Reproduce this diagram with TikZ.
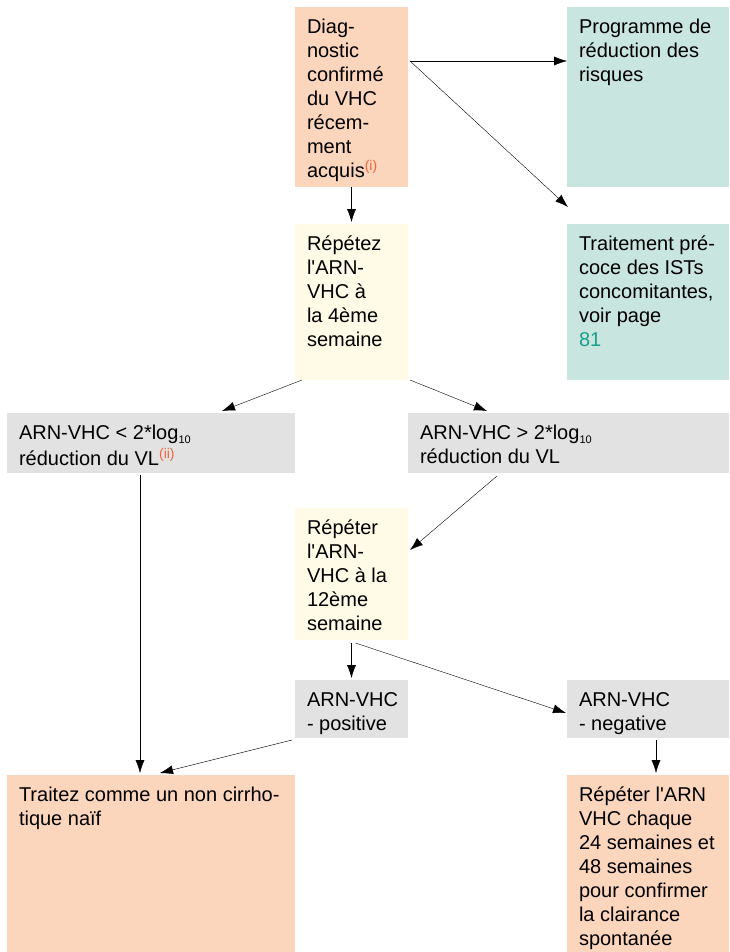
\documentclass[tikz,border=0pt]{standalone}
\usepackage{fontspec}
\setmainfont{Liberation Sans}
\usepackage{tikz}
\usetikzlibrary{arrows.meta}
\usetikzlibrary{calc}

\definecolor{salmon}{HTML}{FBD5BC}
\definecolor{sea}{HTML}{C9E5E0}
\definecolor{cream}{HTML}{FFFBE6}
\definecolor{ash}{HTML}{E2E2E2}
\definecolor{linkteal}{HTML}{1A9E8A}
\definecolor{noteorange}{HTML}{F0643C}

\newcommand{\boxtxt}[3]{\parbox[c][#2pt][t]{#1pt}{\raggedright\strut #3}}
\newcommand{\note}[1]{\textsuperscript{\color{noteorange}(#1)}}
\newcommand{\logten}{log\raisebox{-4pt}{\fontsize{11}{11}\selectfont 10}}
\newcommand{\q}{\textquotesingle}

\begin{document}
\begin{tikzpicture}[x=1pt,y=-1pt,
        every node/.style={block},
        block/.style={anchor=north west,inner xsep=12pt,inner ysep=10pt,outer sep=0pt,
            font=\fontsize{20}{24}\selectfont},
        arrow/.style={-{Latex[length=13pt,width=9pt]}}]
   \useasboundingbox (0,0) rectangle (729,952);
   \node (A) [fill=salmon] at (295,7) {\boxtxt{89}{160}{Diag-\\nostic\\confirmé\\du VHC\\récem-\\ment\\acquis\note{i}}};
   \node (B) [fill=sea] at (567,7) {\boxtxt{138}{160}{Programme de\\réduction des\\risques}};
   \node (C) [fill=cream] at (295,224) {\boxtxt{89}{136}{Répétez\\l\q ARN-\\VHC à\\la 4ème\\semaine}};
   \node (D) [fill=sea] at (567,224) {\boxtxt{138}{136}{Traitement pré-\\coce des ISTs\\concomitantes,\\voir page\\{\color{linkteal}81}}};
   \node (E) [fill=ash] at (7,413) {\boxtxt{264}{40}{ARN-VHC < 2*\logten\\réduction du VL\note{ii}}};
   \node (F) [fill=ash] at (408,413) {\boxtxt{297}{40}{ARN-VHC > 2*\logten\\réduction du VL}};
   \node (G) [fill=cream] at (295,508) {\boxtxt{89}{112}{Répéter\\l\q ARN-\\VHC à la\\12ème\\semaine}};
   \node (H) [fill=ash] at (295,680) {\boxtxt{89}{38}{\mbox{ARN-VHC}\\- positive}};
   \node (I) [fill=ash] at (567,680) {\boxtxt{138}{38}{ARN-VHC\\- negative}};
   \node (J) [fill=salmon] at (7,775) {\boxtxt{264}{157}{Traitez comme un non cirrho-\\tique naïf}};
   \node (K) [fill=salmon] at (567,775) {\boxtxt{138}{157}{Répéter l\q ARN\\VHC chaque\\24 semaines et\\48 semaines\\pour confirmer\\la clairance\\spontanée}};
   \coordinate (fork) at ([xshift=2pt,yshift=-54pt]A.north east);
   \coordinate (early) at ([xshift=1pt,yshift=17pt]D.north west);
   \draw[arrow] (fork) -- (fork -| B.west);
   \draw[arrow] (fork) -- (early);
   \draw[arrow] (A.south) -- ([yshift=2pt]C.north);
   \draw[arrow] ([xshift=7pt]C.south west) -- ([xshift=215pt,yshift=2pt]E.north west);
   \draw[arrow] ([xshift=2pt]C.south east) -- ([xshift=79pt,yshift=2pt]F.north west);
   \draw[arrow] ([xshift=89pt,yshift=-3pt]F.south west) -- ([xshift=2pt,yshift=-42pt]G.north east);
   \draw[arrow] ([xshift=133pt,yshift=-2pt]E.south west) -- ([xshift=133pt,yshift=2pt]J.north west);
   \draw[arrow] ([yshift=-3pt]G.south) -- ([yshift=2pt]H.north);
   \draw[arrow] ([xshift=4pt,yshift=-3pt]G.south) -- ([xshift=-1pt,yshift=-33pt]I.north west);
   \draw[arrow] ([xshift=-3pt,yshift=-2pt]H.south west) -- ([xshift=153pt,yshift=2pt]J.north west);
   \draw[arrow] ([xshift=89pt,yshift=-2pt]I.south west) -- ([xshift=89pt,yshift=2pt]K.north west);
\end{tikzpicture}
\end{document}
